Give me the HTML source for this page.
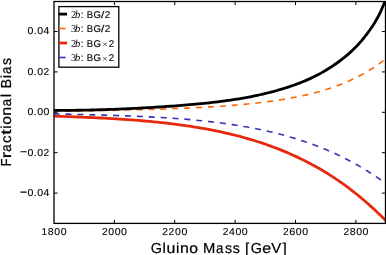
<!DOCTYPE html>
<html><head><meta charset="utf-8"><style>
html,body{margin:0;padding:0;background:#fff;overflow:hidden;}
svg{display:block;will-change:transform;}
text{font-family:"Liberation Sans",sans-serif;fill:#000;text-rendering:geometricPrecision;}
.tk text{font-size:10.0px;stroke:#000;stroke-width:0.12px;}
.lg text{font-size:9.8px;stroke:#000;stroke-width:0.12px;}
.lg text.m{stroke:none;font-size:10.5px;}
.ax{font-size:14.5px;stroke:#000;stroke-width:0.22px;}
.m{font-family:"Liberation Serif",serif;font-size:10.5px;}
</style></head><body>
<svg width="386" height="255" viewBox="0 0 386 255" xmlns="http://www.w3.org/2000/svg">
<defs><clipPath id="c"><rect x="54" y="1.5" width="331.5" height="221.9"/></clipPath></defs>
<rect width="386" height="255" fill="#fff"/>
<g clip-path="url(#c)" fill="none" stroke-linejoin="round">
<path d="M52.00,113.80 L55.76,113.89 L59.52,113.98 L63.28,114.07 L67.03,114.17 L70.79,114.26 L74.55,114.35 L78.31,114.45 L82.07,114.54 L85.83,114.64 L89.58,114.74 L93.34,114.84 L97.10,114.94 L100.86,115.05 L104.62,115.16 L108.38,115.27 L112.13,115.39 L115.89,115.51 L119.65,115.64 L123.41,115.78 L127.17,115.92 L130.93,116.06 L134.69,116.22 L138.44,116.38 L142.20,116.55 L145.96,116.73 L149.72,116.91 L153.48,117.11 L157.24,117.32 L160.99,117.53 L164.75,117.76 L168.51,118.00 L172.27,118.26 L176.03,118.52 L179.79,118.80 L183.54,119.10 L187.30,119.41 L191.06,119.73 L194.82,120.08 L198.58,120.44 L202.34,120.82 L206.10,121.21 L209.85,121.63 L213.61,122.07 L217.37,122.53 L221.13,123.01 L224.89,123.51 L228.65,124.04 L232.40,124.60 L236.16,125.18 L239.92,125.78 L243.68,126.42 L247.44,127.08 L251.20,127.77 L254.96,128.50 L258.71,129.25 L262.47,130.04 L266.23,130.86 L269.99,131.72 L273.75,132.62 L277.51,133.55 L281.26,134.53 L285.02,135.54 L288.78,136.60 L292.54,137.70 L296.30,138.84 L300.06,140.03 L303.81,141.27 L307.57,142.55 L311.33,143.89 L315.09,145.28 L318.85,146.73 L322.61,148.22 L326.37,149.78 L330.12,151.40 L333.88,153.07 L337.64,154.81 L341.40,156.62 L345.16,158.49 L348.92,160.43 L352.67,162.44 L356.43,164.52 L360.19,166.68 L363.95,168.91 L367.71,171.23 L371.47,173.62 L375.22,176.10 L378.98,178.67 L382.74,181.32 L386.50,184.07" stroke="#3333b2" stroke-width="1.6" stroke-dasharray="6 5.9" stroke-dashoffset="-1.6"/>
<path d="M52.00,111.35 L55.76,111.30 L59.52,111.25 L63.28,111.20 L67.03,111.15 L70.79,111.09 L74.55,111.04 L78.31,110.98 L82.07,110.92 L85.83,110.86 L89.58,110.80 L93.34,110.74 L97.10,110.67 L100.86,110.60 L104.62,110.53 L108.38,110.46 L112.13,110.38 L115.89,110.30 L119.65,110.22 L123.41,110.14 L127.17,110.05 L130.93,109.96 L134.69,109.87 L138.44,109.77 L142.20,109.67 L145.96,109.57 L149.72,109.46 L153.48,109.35 L157.24,109.23 L160.99,109.11 L164.75,108.98 L168.51,108.85 L172.27,108.71 L176.03,108.56 L179.79,108.41 L183.54,108.25 L187.30,108.09 L191.06,107.92 L194.82,107.73 L198.58,107.55 L202.34,107.35 L206.10,107.14 L209.85,106.92 L213.61,106.69 L217.37,106.45 L221.13,106.20 L224.89,105.93 L228.65,105.65 L232.40,105.36 L236.16,105.05 L239.92,104.73 L243.68,104.39 L247.44,104.03 L251.20,103.65 L254.96,103.25 L258.71,102.82 L262.47,102.38 L266.23,101.91 L269.99,101.41 L273.75,100.89 L277.51,100.34 L281.26,99.75 L285.02,99.14 L288.78,98.48 L292.54,97.79 L296.30,97.06 L300.06,96.29 L303.81,95.48 L307.57,94.62 L311.33,93.70 L315.09,92.74 L318.85,91.71 L322.61,90.63 L326.37,89.48 L330.12,88.27 L333.88,86.98 L337.64,85.62 L341.40,84.17 L345.16,82.64 L348.92,81.02 L352.67,79.29 L356.43,77.47 L360.19,75.54 L363.95,73.49 L367.71,71.31 L371.47,69.01 L375.22,66.56 L378.98,63.96 L382.74,61.21 L386.50,58.29" stroke="#ff6400" stroke-width="1.6" stroke-dasharray="6 5.9" stroke-dashoffset="-1.3"/>
<path d="M52.00,116.03 L55.76,116.16 L59.52,116.29 L63.28,116.42 L67.03,116.56 L70.79,116.70 L74.55,116.85 L78.31,117.00 L82.07,117.15 L85.83,117.31 L89.58,117.48 L93.34,117.65 L97.10,117.83 L100.86,118.02 L104.62,118.22 L108.38,118.43 L112.13,118.64 L115.89,118.87 L119.65,119.10 L123.41,119.35 L127.17,119.61 L130.93,119.88 L134.69,120.16 L138.44,120.46 L142.20,120.77 L145.96,121.09 L149.72,121.44 L153.48,121.79 L157.24,122.17 L160.99,122.56 L164.75,122.97 L168.51,123.40 L172.27,123.86 L176.03,124.33 L179.79,124.82 L183.54,125.34 L187.30,125.88 L191.06,126.44 L194.82,127.03 L198.58,127.65 L202.34,128.29 L206.10,128.97 L209.85,129.67 L213.61,130.40 L217.37,131.16 L221.13,131.96 L224.89,132.79 L228.65,133.65 L232.40,134.55 L236.16,135.49 L239.92,136.46 L243.68,137.48 L247.44,138.53 L251.20,139.63 L254.96,140.77 L258.71,141.96 L262.47,143.19 L266.23,144.48 L269.99,145.81 L273.75,147.19 L277.51,148.62 L281.26,150.11 L285.02,151.65 L288.78,153.25 L292.54,154.91 L296.30,156.63 L300.06,158.41 L303.81,160.26 L307.57,162.17 L311.33,164.15 L315.09,166.20 L318.85,168.32 L322.61,170.52 L326.37,172.79 L330.12,175.15 L333.88,177.58 L337.64,180.09 L341.40,182.69 L345.16,185.38 L348.92,188.15 L352.67,191.02 L356.43,193.99 L360.19,197.05 L363.95,200.21 L367.71,203.48 L371.47,206.85 L375.22,210.33 L378.98,213.92 L382.74,217.62 L386.50,221.44" stroke="#e6280c" stroke-width="2.8"/>
<path d="M52.00,110.46 L54.81,110.46 L57.62,110.45 L60.43,110.43 L63.24,110.41 L66.05,110.39 L68.87,110.36 L71.68,110.33 L74.49,110.29 L77.30,110.25 L80.11,110.21 L82.92,110.16 L85.73,110.10 L88.54,110.04 L91.35,109.98 L94.16,109.91 L96.97,109.84 L99.79,109.76 L102.60,109.68 L105.41,109.59 L108.22,109.50 L111.03,109.40 L113.84,109.30 L116.65,109.20 L119.46,109.09 L122.27,108.97 L125.08,108.85 L127.89,108.72 L130.71,108.59 L133.52,108.46 L136.33,108.32 L139.14,108.17 L141.95,108.02 L144.76,107.87 L147.57,107.71 L150.38,107.54 L153.19,107.37 L156.00,107.19 L158.82,107.01 L161.63,106.83 L164.44,106.64 L167.25,106.44 L170.06,106.24 L172.87,106.03 L175.68,105.82 L178.49,105.60 L181.30,105.38 L184.11,105.15 L186.92,104.92 L189.74,104.68 L192.55,104.43 L195.36,104.18 L198.17,103.92 L200.98,103.65 L203.79,103.37 L206.60,103.08 L209.41,102.78 L212.22,102.47 L215.03,102.15 L217.84,101.82 L220.66,101.47 L223.47,101.10 L226.28,100.73 L229.09,100.33 L231.90,99.92 L234.71,99.49 L237.52,99.05 L240.33,98.58 L243.14,98.10 L245.95,97.59 L248.76,97.07 L251.58,96.52 L254.39,95.95 L257.20,95.36 L260.01,94.75 L262.82,94.10 L265.63,93.44 L268.44,92.75 L271.25,92.03 L274.06,91.28 L276.87,90.51 L279.68,89.71 L282.50,88.87 L285.31,88.01 L288.12,87.11 L290.93,86.18 L293.74,85.20 L296.55,84.19 L299.36,83.13 L302.17,82.01 L304.98,80.85 L307.79,79.63 L310.61,78.36 L313.42,77.02 L316.23,75.62 L319.04,74.15 L321.85,72.62 L324.66,71.01 L327.47,69.32 L330.28,67.55 L333.09,65.71 L335.90,63.77 L338.71,61.75 L341.53,59.64 L344.34,57.43 L347.15,55.10 L349.96,52.64 L352.77,50.02 L355.58,47.24 L358.39,44.28 L361.20,41.12 L364.01,37.74 L366.82,34.14 L369.63,30.28 L372.45,26.17 L375.26,21.72 L378.07,16.76 L380.88,11.10 L383.69,4.51 L386.50,-3.19" stroke="#000" stroke-width="2.8"/>
</g>
<path d="M114.38,223.4 V219.8 M114.38,1.5 V5.1 M174.75,223.4 V219.8 M174.75,1.5 V5.1 M235.12,223.4 V219.8 M235.12,1.5 V5.1 M295.50,223.4 V219.8 M295.50,1.5 V5.1 M355.88,223.4 V219.8 M355.88,1.5 V5.1 M54,193.10 H57.6 M385.5,193.10 H381.9 M54,152.70 H57.6 M385.5,152.70 H381.9 M54,112.30 H57.6 M385.5,112.30 H381.9 M54,71.90 H57.6 M385.5,71.90 H381.9 M54,31.50 H57.6 M385.5,31.50 H381.9" stroke="#000" stroke-width="1" fill="none"/>
<rect x="54" y="1.5" width="331.5" height="221.9" fill="none" stroke="#000" stroke-width="1.3"/>
<rect x="58.9" y="6.6" width="59.9" height="60.6" fill="#fff" stroke="#000" stroke-width="1.3"/>
<g fill="none">
<path d="M58.8,14.1 H67.1" stroke="#000" stroke-width="2.8"/>
<path d="M59.1,28.5 H65.6" stroke="#ff6400" stroke-width="1.6"/>
<path d="M58.8,43.0 H67.1" stroke="#e6280c" stroke-width="2.8"/>
<path d="M59.1,57.5 H65.6" stroke="#3333b2" stroke-width="1.6"/>
</g>
<g class="lg">
<text class="m" x="71" y="18.0" fill="#444">2<tspan font-style="italic" dx="-1.2">b</tspan></text><text x="80.7" y="18.0">:</text><text transform="translate(90.13,18.00) scale(0.981,1.0)" x="-3.41" y="0">B</text><text transform="translate(97.10,18.00) scale(0.985,1.0)" x="-3.69" y="0">G</text><text transform="translate(102.73,18.00) scale(1.225,1.0)" x="-1.36" y="0">/</text><text transform="translate(107.42,18.00) scale(1.026,1.0)" x="-2.73" y="0">2</text>
<text class="m" x="71" y="32.4" fill="#444">3<tspan font-style="italic" dx="-1.2">b</tspan></text><text x="80.7" y="32.4">:</text><text transform="translate(90.13,32.40) scale(0.981,1.0)" x="-3.41" y="0">B</text><text transform="translate(97.10,32.40) scale(0.985,1.0)" x="-3.69" y="0">G</text><text transform="translate(102.73,32.40) scale(1.225,1.0)" x="-1.36" y="0">/</text><text transform="translate(107.42,32.40) scale(1.026,1.0)" x="-2.73" y="0">2</text>
<text class="m" x="71" y="46.8" fill="#444">2<tspan font-style="italic" dx="-1.2">b</tspan></text><text x="80.7" y="46.8">:</text><text transform="translate(90.13,46.80) scale(0.981,1.0)" x="-3.41" y="0">B</text><text transform="translate(97.10,46.80) scale(0.985,1.0)" x="-3.69" y="0">G</text><text x="108.7" y="46.8">2</text><path d="M103.10,42.50 L106.70,46.10 M103.10,46.10 L106.70,42.50" stroke="#444" stroke-width="0.85" fill="none"/>
<text class="m" x="71" y="61.2" fill="#444">3<tspan font-style="italic" dx="-1.2">b</tspan></text><text x="80.7" y="61.2">:</text><text transform="translate(90.13,61.20) scale(0.981,1.0)" x="-3.41" y="0">B</text><text transform="translate(97.10,61.20) scale(0.985,1.0)" x="-3.69" y="0">G</text><text x="108.7" y="61.2">2</text><path d="M103.10,56.90 L106.70,60.50 M103.10,60.50 L106.70,56.90" stroke="#444" stroke-width="0.85" fill="none"/>
</g>
<g class="tk"><text transform="translate(44.54,234.60) scale(1.007,1.0)" x="-2.92" y="0">1</text><text transform="translate(50.82,234.60) scale(1.066,1.0)" x="-2.78" y="0">8</text><text transform="translate(57.18,234.60) scale(1.054,1.0)" x="-2.78" y="0">0</text><text transform="translate(63.54,234.60) scale(1.054,1.0)" x="-2.78" y="0">0</text><text transform="translate(104.70,234.60) scale(1.016,1.0)" x="-2.78" y="0">2</text><text transform="translate(111.19,234.60) scale(1.054,1.0)" x="-2.78" y="0">0</text><text transform="translate(117.55,234.60) scale(1.054,1.0)" x="-2.78" y="0">0</text><text transform="translate(123.92,234.60) scale(1.054,1.0)" x="-2.78" y="0">0</text><text transform="translate(165.07,234.60) scale(1.016,1.0)" x="-2.78" y="0">2</text><text transform="translate(171.43,234.60) scale(1.016,1.0)" x="-2.78" y="0">2</text><text transform="translate(177.93,234.60) scale(1.054,1.0)" x="-2.78" y="0">0</text><text transform="translate(184.29,234.60) scale(1.054,1.0)" x="-2.78" y="0">0</text><text transform="translate(225.45,234.60) scale(1.016,1.0)" x="-2.78" y="0">2</text><text transform="translate(231.91,234.60) scale(1.054,1.0)" x="-2.75" y="0">4</text><text transform="translate(238.30,234.60) scale(1.054,1.0)" x="-2.78" y="0">0</text><text transform="translate(244.67,234.60) scale(1.054,1.0)" x="-2.78" y="0">0</text><text transform="translate(285.82,234.60) scale(1.016,1.0)" x="-2.78" y="0">2</text><text transform="translate(292.35,234.60) scale(1.091,1.0)" x="-2.81" y="0">6</text><text transform="translate(298.68,234.60) scale(1.054,1.0)" x="-2.78" y="0">0</text><text transform="translate(305.04,234.60) scale(1.054,1.0)" x="-2.78" y="0">0</text><text transform="translate(346.20,234.60) scale(1.016,1.0)" x="-2.78" y="0">2</text><text transform="translate(352.69,234.60) scale(1.066,1.0)" x="-2.78" y="0">8</text><text transform="translate(359.05,234.60) scale(1.054,1.0)" x="-2.78" y="0">0</text><text transform="translate(365.42,234.60) scale(1.054,1.0)" x="-2.78" y="0">0</text><text transform="translate(30.51,196.00) scale(1.054,1.0)" x="-2.78" y="0">0</text><text transform="translate(35.28,196.00) scale(1.082,1.0)" x="-1.39" y="0">.</text><text transform="translate(40.05,196.00) scale(1.054,1.0)" x="-2.78" y="0">0</text><text transform="translate(46.38,196.00) scale(1.054,1.0)" x="-2.75" y="0">4</text><text transform="translate(30.51,155.60) scale(1.054,1.0)" x="-2.78" y="0">0</text><text transform="translate(35.28,155.60) scale(1.082,1.0)" x="-1.39" y="0">.</text><text transform="translate(40.05,155.60) scale(1.054,1.0)" x="-2.78" y="0">0</text><text transform="translate(46.28,155.60) scale(1.016,1.0)" x="-2.78" y="0">2</text><text transform="translate(30.51,115.20) scale(1.054,1.0)" x="-2.78" y="0">0</text><text transform="translate(35.28,115.20) scale(1.082,1.0)" x="-1.39" y="0">.</text><text transform="translate(40.05,115.20) scale(1.054,1.0)" x="-2.78" y="0">0</text><text transform="translate(46.42,115.20) scale(1.054,1.0)" x="-2.78" y="0">0</text><text transform="translate(30.51,74.80) scale(1.054,1.0)" x="-2.78" y="0">0</text><text transform="translate(35.28,74.80) scale(1.082,1.0)" x="-1.39" y="0">.</text><text transform="translate(40.05,74.80) scale(1.054,1.0)" x="-2.78" y="0">0</text><text transform="translate(46.28,74.80) scale(1.016,1.0)" x="-2.78" y="0">2</text><text transform="translate(30.51,34.40) scale(1.054,1.0)" x="-2.78" y="0">0</text><text transform="translate(35.28,34.40) scale(1.082,1.0)" x="-1.39" y="0">.</text><text transform="translate(40.05,34.40) scale(1.054,1.0)" x="-2.78" y="0">0</text><text transform="translate(46.38,34.40) scale(1.054,1.0)" x="-2.75" y="0">4</text></g>
<path d="M20.5,192.10 H26.6 M20.5,151.70 H26.6" stroke="#000" stroke-width="1.1" fill="none"/>
<text class="ax" transform="translate(156.13,252.50) scale(0.995,1.0)" x="-5.46" y="0">G</text><text class="ax" transform="translate(164.12,252.50) scale(1.043,1.0)" x="-1.61" y="0">l</text><text class="ax" transform="translate(170.82,252.50) scale(1.100,1.0)" x="-4.02" y="0">u</text><text class="ax" transform="translate(177.61,252.50) scale(1.043,1.0)" x="-1.61" y="0">i</text><text class="ax" transform="translate(184.39,252.50) scale(1.100,1.0)" x="-4.04" y="0">n</text><text class="ax" transform="translate(193.57,252.50) scale(1.085,1.0)" x="-4.03" y="0">o</text><text class="ax" transform="translate(209.19,252.50) scale(1.018,1.0)" x="-6.04" y="0">M</text><text class="ax" transform="translate(219.88,252.50) scale(0.918,1.0)" x="-4.34" y="0">a</text><text class="ax" transform="translate(228.53,252.50) scale(0.978,1.0)" x="-3.56" y="0">s</text><text class="ax" transform="translate(236.24,252.50) scale(0.978,1.0)" x="-3.56" y="0">s</text><text class="ax" transform="translate(247.57,252.50) scale(1.063,1.0)" x="-2.47" y="0">[</text><text class="ax" transform="translate(256.08,252.50) scale(0.995,1.0)" x="-5.46" y="0">G</text><text class="ax" transform="translate(266.57,252.50) scale(1.102,1.0)" x="-4.02" y="0">e</text><text class="ax" transform="translate(276.17,252.50) scale(1.036,1.0)" x="-4.84" y="0">V</text><text class="ax" transform="translate(284.21,252.50) scale(1.063,1.0)" x="-1.55" y="0">]</text>
<g transform="translate(10.6,112.2) rotate(-90)"><text class="ax" transform="translate(-49.99,0.00) scale(0.875,1.0)" x="-4.73" y="0">F</text><text class="ax" transform="translate(-42.32,0.00) scale(1.308,1.0)" x="-2.78" y="0">r</text><text class="ax" transform="translate(-35.64,0.00) scale(0.918,1.0)" x="-4.34" y="0">a</text><text class="ax" transform="translate(-26.86,0.00) scale(1.024,1.0)" x="-3.74" y="0">c</text><text class="ax" transform="translate(-19.82,0.00) scale(1.364,1.0)" x="-2.07" y="0">t</text><text class="ax" transform="translate(-14.88,0.00) scale(1.043,1.0)" x="-1.61" y="0">i</text><text class="ax" transform="translate(-8.29,0.00) scale(1.085,1.0)" x="-4.03" y="0">o</text><text class="ax" transform="translate(0.96,0.00) scale(1.100,1.0)" x="-4.04" y="0">n</text><text class="ax" transform="translate(9.92,0.00) scale(0.918,1.0)" x="-4.34" y="0">a</text><text class="ax" transform="translate(16.74,0.00) scale(1.043,1.0)" x="-1.61" y="0">l</text><text class="ax" transform="translate(28.78,0.00) scale(0.992,1.0)" x="-5.05" y="0">B</text><text class="ax" transform="translate(35.71,0.00) scale(1.043,1.0)" x="-1.61" y="0">i</text><text class="ax" transform="translate(42.07,0.00) scale(0.918,1.0)" x="-4.34" y="0">a</text><text class="ax" transform="translate(50.73,0.00) scale(0.978,1.0)" x="-3.56" y="0">s</text></g>
</svg>
</body></html>
